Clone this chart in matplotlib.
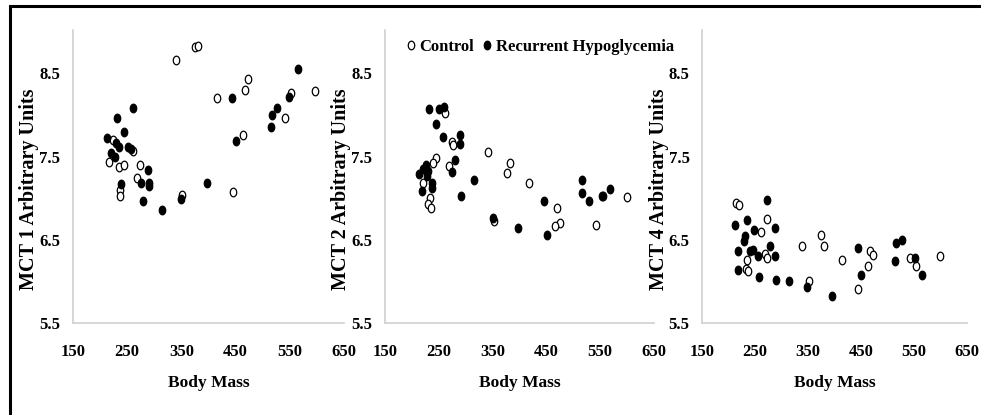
import numpy as np
import matplotlib
matplotlib.use('Agg')
import matplotlib.pyplot as plt
from matplotlib.path import Path
from matplotlib.transforms import Affine2D
from matplotlib.patches import Rectangle
from matplotlib.lines import Line2D

# ==========================================
# 数据
# ==========================================
mct1_ctrl_x = [340, 375, 381, 416, 467, 473, 596, 553, 541, 463, 446, 352,
               223, 217, 234, 245, 261, 274, 269, 237, 237]
mct1_ctrl_y = [8.66, 8.81, 8.83, 8.20, 8.30, 8.43, 8.29, 8.26, 7.96, 7.76, 7.07, 7.04,
               7.70, 7.44, 7.38, 7.40, 7.57, 7.40, 7.24, 7.10, 7.02]
mct1_rh_x = [566, 444, 549, 526, 517, 515, 450, 397, 349, 315, 280, 260, 232, 245,
             213, 230, 235, 252, 257, 220, 227, 289, 275, 290, 290, 238]
mct1_rh_y = [8.55, 8.20, 8.22, 8.08, 8.00, 7.86, 7.69, 7.18, 6.99, 6.86, 6.96, 8.08, 7.96, 7.80,
             7.72, 7.66, 7.61, 7.62, 7.59, 7.54, 7.50, 7.34, 7.18, 7.18, 7.15, 7.17]

mct2_ctrl_x = [262, 275, 276, 269, 245, 240, 342, 382, 376, 418, 469, 599, 556,
               220, 233, 229, 235, 353, 475, 466, 543]
mct2_ctrl_y = [8.02, 7.68, 7.64, 7.39, 7.48, 7.42, 7.56, 7.42, 7.30, 7.18, 6.88, 7.01, 7.02,
               7.18, 7.00, 6.93, 6.88, 6.72, 6.70, 6.66, 6.68]
mct2_rh_x = [232, 250, 260, 245, 258, 289, 289, 280, 275, 315, 291, 214, 220, 226,
             229, 228, 237, 237, 219, 350, 398, 446, 452, 517, 517, 530, 553, 568]
mct2_rh_y = [8.07, 8.07, 8.10, 7.89, 7.73, 7.76, 7.65, 7.46, 7.32, 7.22, 7.02, 7.29, 7.35, 7.40,
             7.33, 7.27, 7.18, 7.12, 7.09, 6.76, 6.64, 6.96, 6.56, 7.22, 7.06, 6.96, 7.02, 7.11]

mct4_ctrl_x = [214, 220, 273, 261, 374, 339, 380, 268, 273, 234, 233, 236,
               415, 467, 473, 464, 445, 352, 542, 554, 599]
mct4_ctrl_y = [6.94, 6.92, 6.75, 6.59, 6.56, 6.42, 6.42, 6.33, 6.28, 6.26, 6.15, 6.13,
               6.26, 6.36, 6.32, 6.18, 5.91, 6.01, 6.28, 6.18, 6.30]
mct4_rh_x = [272, 212, 234, 249, 288, 231, 230, 278, 218, 241, 246, 256, 288,
             217, 258, 290, 315, 349, 396, 444, 450, 516, 528, 514, 552, 566]
mct4_rh_y = [6.98, 6.68, 6.74, 6.62, 6.64, 6.54, 6.48, 6.42, 6.37, 6.36, 6.38, 6.30, 6.30,
             6.14, 6.05, 6.02, 6.00, 5.93, 5.83, 6.40, 6.08, 6.46, 6.50, 6.24, 6.28, 6.08]

panel_labels = ['MCT 1 Arbitrary Units', 'MCT 2 Arbitrary Units', 'MCT 4 Arbitrary Units']
x_ticks = [150, 250, 350, 450, 550, 650]
y_ticks = [5.5, 6.5, 7.5, 8.5]

panels = [
    (mct1_ctrl_x, mct1_ctrl_y, mct1_rh_x, mct1_rh_y),
    (mct2_ctrl_x, mct2_ctrl_y, mct2_rh_x, mct2_rh_y),
    (mct4_ctrl_x, mct4_ctrl_y, mct4_rh_x, mct4_rh_y),
]

# ==========================================
# 绘图
# ==========================================
plt.rcParams['font.family'] = ['Liberation Serif', 'DejaVu Serif']
plt.rcParams['font.weight'] = 'bold'

W, H = 981, 415
fig = plt.figure(figsize=(W / 100, H / 100), dpi=100)

# 原图的点略呈竖椭圆
ell = Affine2D().scale(0.75, 1.0).transform_path(Path.unit_circle())

# 坐标轴像素位置 (left, right)
ax_px = [(73, 344), (385, 654), (702, 967)]
top_px, bot_px = 30, 323

grey = '#d0d0d0'
for i, (cx, cy, rx, ry) in enumerate(panels):
    l, r = ax_px[i]
    ax = fig.add_axes([l / W, (H - bot_px) / H, (r - l) / W, (bot_px - top_px) / H])
    ax.plot(cx, cy, linestyle='none', marker=ell, markersize=6.2,
            markerfacecolor='white', markeredgecolor='black', markeredgewidth=0.9)
    ax.plot(rx, ry, linestyle='none', marker=ell, markersize=6.2,
            markerfacecolor='black', markeredgecolor='black', markeredgewidth=0.9)

    ax.set_xlim(150, 650)
    ax.set_ylim(5.5, 9.02)
    ax.set_xticks(x_ticks)
    ax.set_yticks(y_ticks)
    ax.set_xticklabels([str(v) for v in x_ticks])
    ax.set_yticklabels([f'{v:.1f}' for v in y_ticks])
    ax.tick_params(axis='both', length=0, labelsize=12)
    ax.tick_params(axis='x', pad=15)
    ax.tick_params(axis='y', pad=9)

    for s in ['top', 'right']:
        ax.spines[s].set_visible(False)
    for s in ['left', 'bottom']:
        ax.spines[s].set_color(grey)
        ax.spines[s].set_linewidth(1.2)

    ax.set_xlabel('Body Mass', fontsize=12.5, fontweight='bold')
    ax.xaxis.set_label_coords(0.5, -0.205)
    ax.xaxis.label.set_va('center')
    ax.set_ylabel(panel_labels[i], fontsize=14.5, fontweight='bold')
    ax.yaxis.set_label_coords(-0.163, 0.457)
    ax.yaxis.label.set_va('center')

# 图例
handles = [
    Line2D([], [], linestyle='none', marker=ell, markersize=6.2,
           markerfacecolor='white', markeredgecolor='black', markeredgewidth=0.9),
    Line2D([], [], linestyle='none', marker=ell, markersize=6.2,
           markerfacecolor='black', markeredgecolor='black', markeredgewidth=0.9),
]
fig.legend(handles, ['Control', 'Recurrent Hypoglycemia'], loc='center',
           bbox_to_anchor=(540 / W, (H - 47) / H), ncol=2, frameon=False,
           fontsize=12, handlelength=0.6, handletextpad=0.2, columnspacing=0.5,
           borderpad=0)

# 外框（右侧与底部在画布外）
fig.patches.append(Rectangle((10 / W, -0.05), 1.0, (H - 6) / H + 0.05,
                             transform=fig.transFigure, fill=False,
                             edgecolor='black', linewidth=2.2))

plt.savefig('out.png', dpi=100)
plt.close()
